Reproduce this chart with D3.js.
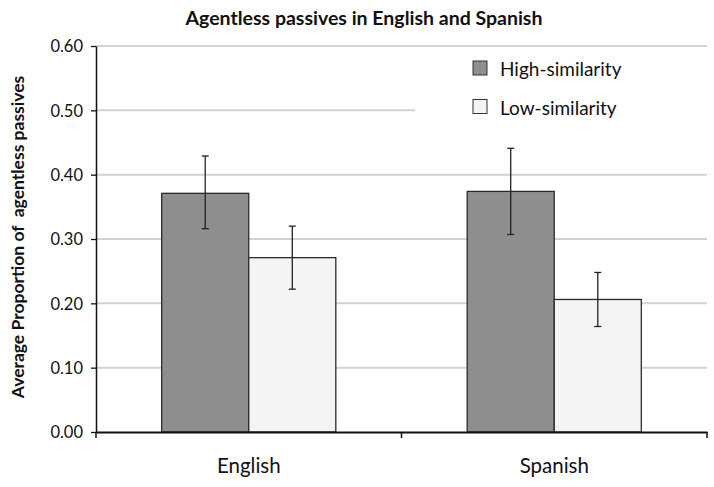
<!DOCTYPE html>
<html>
<head>
<meta charset="utf-8">
<script src="https://cdn.jsdelivr.net/npm/d3@7"></script>
<style>
  body { margin: 0; background: #fff; }
  text { font-family: Lato, "Open Sans", sans-serif; fill: #111; }
</style>
</head>
<body>
<svg width="714" height="487"></svg>
<script>
// data
const languages = ["English", "Spanish"];
const conditions = ["High-similarity", "Low-similarity"];
const means = [[0.371, 0.271], [0.374, 0.206]];
const errLow = [[0.316, 0.222], [0.307, 0.164]];
const errHigh = [[0.429, 0.320], [0.441, 0.248]];
const yTicks = [0, 0.1, 0.2, 0.3, 0.4, 0.5, 0.6];

const svg = d3.select("svg");
const margin = { top: 46, right: 7, bottom: 55, left: 96 };
const width = 714 - margin.left - margin.right,
  height = 487 - margin.top - margin.bottom;

const fills = { "High-similarity": "#8e8e8e", "Low-similarity": "#f4f4f4" };

const x = d3.scaleBand().domain(languages).range([0, width]).paddingInner(0.43).paddingOuter(0.215);
const xOuter = d3.scaleBand().domain(languages).range([0, width]);
const xInner = d3.scaleBand().domain(conditions).range([0, x.bandwidth()]);
const y = d3.scaleLinear().domain([0, 0.6]).range([height, 0]);

const g = svg.append("g").attr("transform", `translate(${margin.left},${margin.top})`);

// gridlines (0.50 line is cut short by the legend)
g.selectAll("line.grid")
  .data(yTicks.filter(d => d > 0))
  .enter()
  .append("line")
  .attr("class", "grid")
  .attr("x1", 0)
  .attr("x2", d => (d === 0.5 ? 319 : width))
  .attr("y1", d => y(d))
  .attr("y2", d => y(d))
  .attr("stroke", "#d2d2d2")
  .attr("stroke-width", 2);

// bars
const rows = [];
languages.forEach((lang, i) => {
  conditions.forEach((cond, j) => {
    rows.push({ lang, cond, v: means[i][j], lo: errLow[i][j], hi: errHigh[i][j] });
  });
});

const bx = d => xOuter(d.lang) + xOuter.bandwidth() / 2 - x.bandwidth() / 2 + xInner(d.cond);

g.selectAll("rect.bar")
  .data(rows)
  .enter()
  .append("rect")
  .attr("class", "bar")
  .attr("x", bx)
  .attr("y", d => y(d.v))
  .attr("width", xInner.bandwidth())
  .attr("height", d => height - y(d.v))
  .attr("fill", d => fills[d.cond])
  .attr("stroke", "#2b2b2b")
  .attr("stroke-width", 1.3);

// error bars
const eb = g.selectAll("g.err").data(rows).enter().append("g").attr("class", "err")
  .attr("transform", d => `translate(${bx(d) + xInner.bandwidth() / 2},0)`)
  .attr("stroke", "#222")
  .attr("stroke-width", 1.3);
eb.append("line").attr("y1", d => y(d.lo)).attr("y2", d => y(d.hi));
eb.append("line").attr("x1", -3.5).attr("x2", 3.5).attr("y1", d => y(d.hi)).attr("y2", d => y(d.hi));
eb.append("line").attr("x1", -3.5).attr("x2", 3.5).attr("y1", d => y(d.lo)).attr("y2", d => y(d.lo));

// y axis
const yAxis = g.append("g")
  .call(d3.axisLeft(y).tickValues(yTicks).tickFormat(d3.format(".2f")).tickSize(5).tickSizeOuter(0));
yAxis.select(".domain").attr("stroke", "#111").attr("stroke-width", 1.5);
yAxis.selectAll(".tick line").attr("stroke", "#111").attr("stroke-width", 1.3);
yAxis.selectAll("text").attr("font-size", 16.5).attr("x", -13).attr("dy", "0.36em")
  .style("font-family", "Lato, 'Open Sans', sans-serif").attr("fill", "#111");

// x axis
const xAxis = g.append("g").attr("transform", `translate(0,${height})`)
  .call(d3.axisBottom(xOuter).tickSize(0).tickSizeOuter(0));
xAxis.select(".domain").attr("stroke", "#111").attr("stroke-width", 1.8);
xAxis.selectAll(".tick text").attr("font-size", 20.5).attr("dy", 0).attr("y", 41)
  .style("font-family", "Lato, 'Open Sans', sans-serif").attr("fill", "#111");
// category separator ticks
g.selectAll("line.xtick")
  .data([0, width / 2, width])
  .enter()
  .append("line")
  .attr("class", "xtick")
  .attr("x1", d => d).attr("x2", d => d)
  .attr("y1", height).attr("y2", height + 6)
  .attr("stroke", "#111").attr("stroke-width", 1.5);

// title
svg.append("text")
  .attr("x", 364).attr("y", 25)
  .attr("text-anchor", "middle")
  .attr("font-size", 19.5)
  .attr("font-weight", "bold")
  .text("Agentless passives in English and Spanish");

// y label
svg.append("text")
  .attr("transform", "translate(24,237) rotate(-90)")
  .attr("text-anchor", "middle")
  .attr("font-size", 17.5)
  .attr("font-weight", "bold")
  .attr("xml:space", "preserve")
  .text("Average Proportion of  agentless passives");

// legend
const legend = svg.append("g").attr("transform", "translate(473,61)");
const li = legend.selectAll("g").data(conditions).enter().append("g")
  .attr("transform", (d, i) => `translate(0,${i * 38.5})`);
li.append("rect").attr("width", 14).attr("height", 14)
  .attr("fill", d => fills[d]).attr("stroke", "#333").attr("stroke-width", 1);
li.append("text").attr("x", 27).attr("y", 15).attr("font-size", 19).text(d => d);
</script>
</body>
</html>
